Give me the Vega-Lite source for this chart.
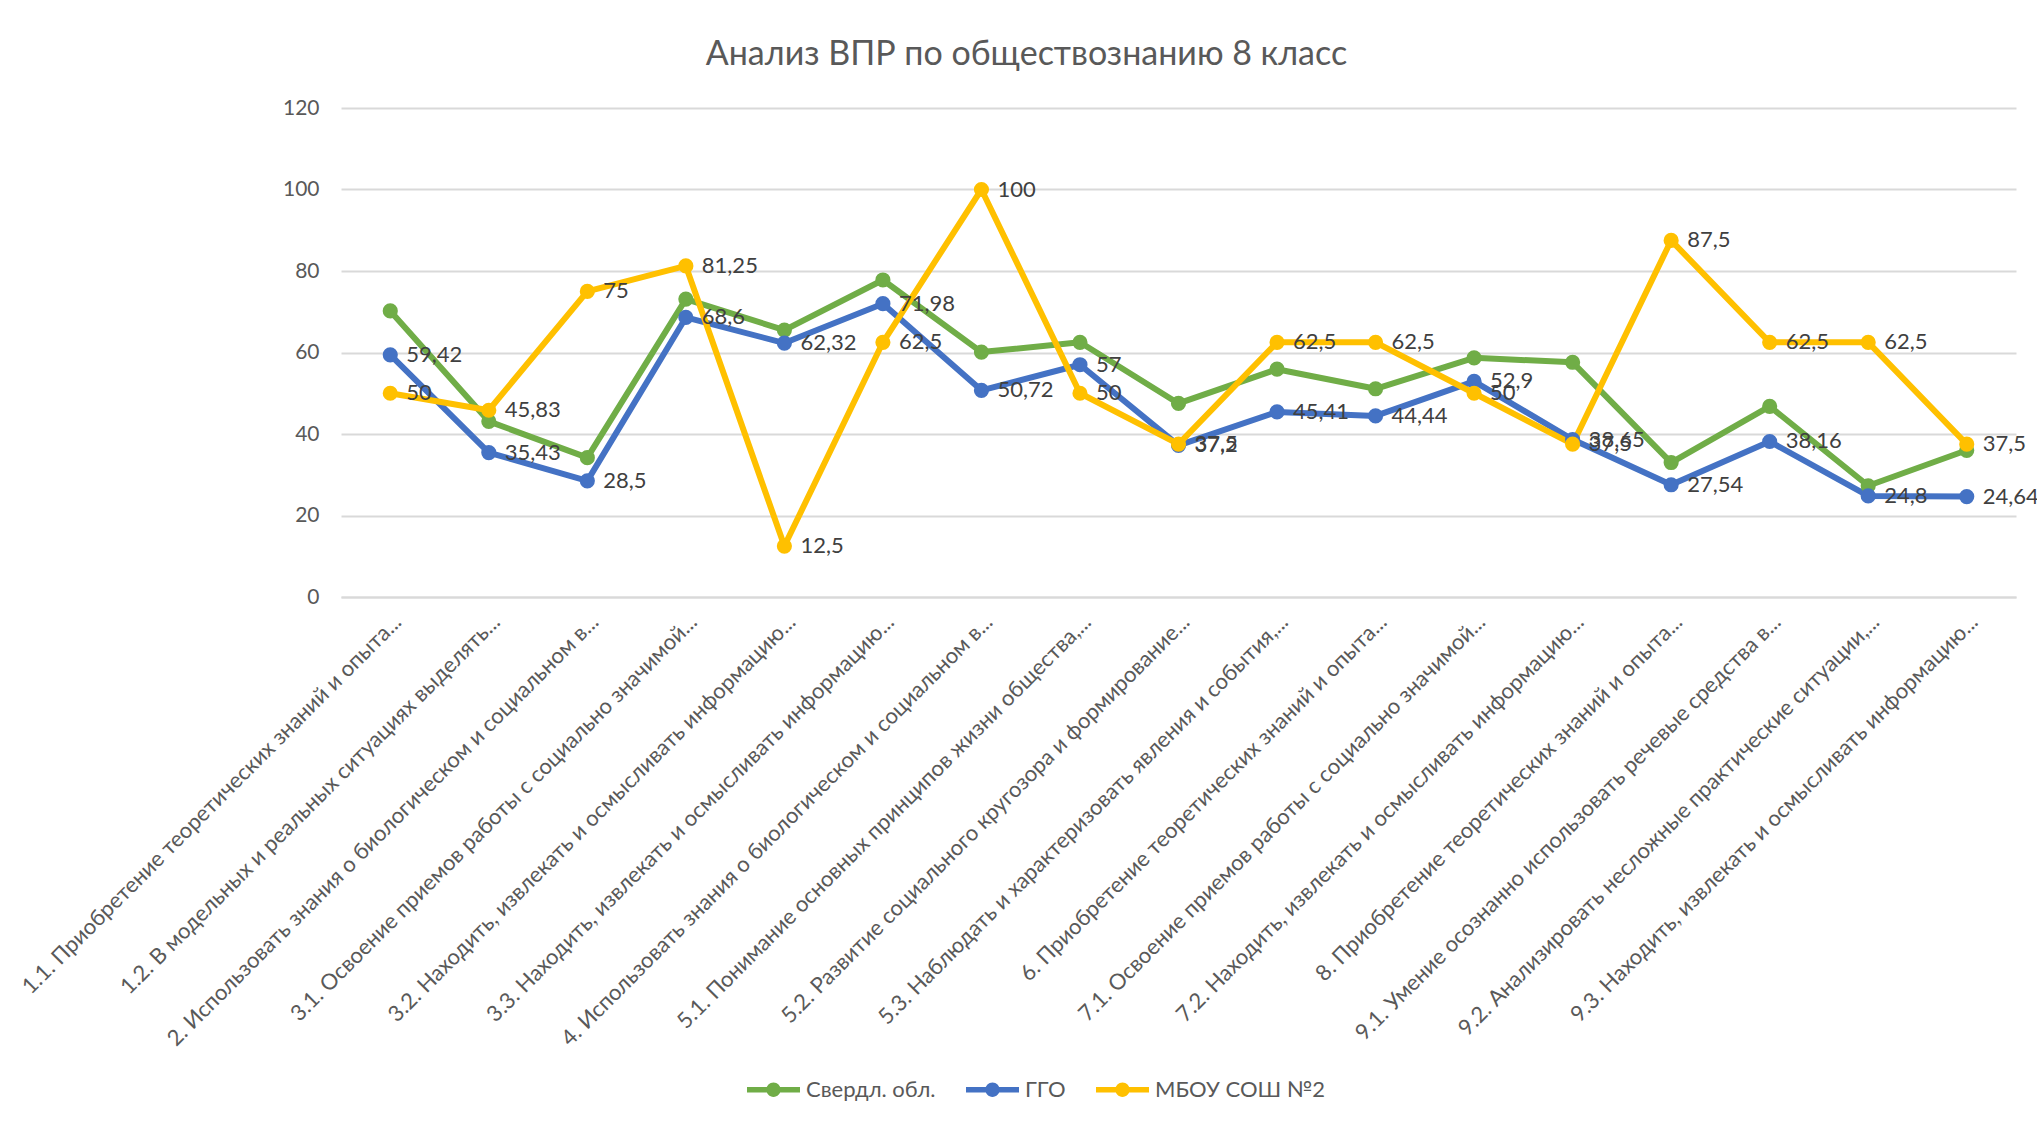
{
  "$schema": "https://vega.github.io/schema/vega-lite/v6.json",
  "autosize": "none",
  "width": 1675,
  "height": 489,
  "padding": {"left": 341, "top": 108, "right": 21, "bottom": 526},
  "background": "white",
  "config": {
    "locale": {"number": {"decimal": ",", "thousands": " ", "grouping": [3], "currency": ["", ""]}},
    "view": {"stroke": null},
    "font": "Lato"
  },
  "title": {
    "text": "Анализ ВПР по обществознанию 8 класс",
    "font": "Lato",
    "fontSize": 34,
    "fontWeight": "normal",
    "color": "#595959",
    "anchor": "middle",
    "frame": "group",
    "dx": -152,
    "offset": 25
  },
  "data": {
    "values": [
      {"task": "1.1. Приобретение теоретических знаний и опыта...", "series": "Свердл. обл.", "value": 70.2},
      {"task": "1.2. В модельных и реальных ситуациях выделять...", "series": "Свердл. обл.", "value": 43.1},
      {"task": "2. Использовать знания о биологическом и социальном в...", "series": "Свердл. обл.", "value": 34.2},
      {"task": "3.1. Освоение приемов работы с социально значимой...", "series": "Свердл. обл.", "value": 73.1},
      {"task": "3.2. Находить, извлекать и осмысливать информацию...", "series": "Свердл. обл.", "value": 65.5},
      {"task": "3.3. Находить, извлекать и осмысливать информацию...", "series": "Свердл. обл.", "value": 77.8},
      {"task": "4. Использовать знания о биологическом и социальном в...", "series": "Свердл. обл.", "value": 60.1},
      {"task": "5.1. Понимание основных принципов жизни общества,...", "series": "Свердл. обл.", "value": 62.5},
      {"task": "5.2. Развитие социального кругозора и формирование...", "series": "Свердл. обл.", "value": 47.5},
      {"task": "5.3. Наблюдать и характеризовать явления и события,...", "series": "Свердл. обл.", "value": 55.9},
      {"task": "6. Приобретение теоретических знаний и опыта...", "series": "Свердл. обл.", "value": 51.1},
      {"task": "7.1. Освоение приемов работы с социально значимой...", "series": "Свердл. обл.", "value": 58.7},
      {"task": "7.2. Находить, извлекать и осмысливать информацию...", "series": "Свердл. обл.", "value": 57.6},
      {"task": "8. Приобретение теоретических знаний и опыта...", "series": "Свердл. обл.", "value": 33.0},
      {"task": "9.1. Умение осознанно использовать речевые средства в...", "series": "Свердл. обл.", "value": 46.8},
      {"task": "9.2. Анализировать несложные практические ситуации,...", "series": "Свердл. обл.", "value": 27.3},
      {"task": "9.3. Находить, извлекать и осмысливать информацию...", "series": "Свердл. обл.", "value": 36.0},
      {"task": "1.1. Приобретение теоретических знаний и опыта...", "series": "ГГО", "value": 59.42},
      {"task": "1.2. В модельных и реальных ситуациях выделять...", "series": "ГГО", "value": 35.43},
      {"task": "2. Использовать знания о биологическом и социальном в...", "series": "ГГО", "value": 28.5},
      {"task": "3.1. Освоение приемов работы с социально значимой...", "series": "ГГО", "value": 68.6},
      {"task": "3.2. Находить, извлекать и осмысливать информацию...", "series": "ГГО", "value": 62.32},
      {"task": "3.3. Находить, извлекать и осмысливать информацию...", "series": "ГГО", "value": 71.98},
      {"task": "4. Использовать знания о биологическом и социальном в...", "series": "ГГО", "value": 50.72},
      {"task": "5.1. Понимание основных принципов жизни общества,...", "series": "ГГО", "value": 57},
      {"task": "5.2. Развитие социального кругозора и формирование...", "series": "ГГО", "value": 37.2},
      {"task": "5.3. Наблюдать и характеризовать явления и события,...", "series": "ГГО", "value": 45.41},
      {"task": "6. Приобретение теоретических знаний и опыта...", "series": "ГГО", "value": 44.44},
      {"task": "7.1. Освоение приемов работы с социально значимой...", "series": "ГГО", "value": 52.9},
      {"task": "7.2. Находить, извлекать и осмысливать информацию...", "series": "ГГО", "value": 38.65},
      {"task": "8. Приобретение теоретических знаний и опыта...", "series": "ГГО", "value": 27.54},
      {"task": "9.1. Умение осознанно использовать речевые средства в...", "series": "ГГО", "value": 38.16},
      {"task": "9.2. Анализировать несложные практические ситуации,...", "series": "ГГО", "value": 24.8},
      {"task": "9.3. Находить, извлекать и осмысливать информацию...", "series": "ГГО", "value": 24.64},
      {"task": "1.1. Приобретение теоретических знаний и опыта...", "series": "МБОУ СОШ №2", "value": 50},
      {"task": "1.2. В модельных и реальных ситуациях выделять...", "series": "МБОУ СОШ №2", "value": 45.83},
      {"task": "2. Использовать знания о биологическом и социальном в...", "series": "МБОУ СОШ №2", "value": 75},
      {"task": "3.1. Освоение приемов работы с социально значимой...", "series": "МБОУ СОШ №2", "value": 81.25},
      {"task": "3.2. Находить, извлекать и осмысливать информацию...", "series": "МБОУ СОШ №2", "value": 12.5},
      {"task": "3.3. Находить, извлекать и осмысливать информацию...", "series": "МБОУ СОШ №2", "value": 62.5},
      {"task": "4. Использовать знания о биологическом и социальном в...", "series": "МБОУ СОШ №2", "value": 100},
      {"task": "5.1. Понимание основных принципов жизни общества,...", "series": "МБОУ СОШ №2", "value": 50},
      {"task": "5.2. Развитие социального кругозора и формирование...", "series": "МБОУ СОШ №2", "value": 37.5},
      {"task": "5.3. Наблюдать и характеризовать явления и события,...", "series": "МБОУ СОШ №2", "value": 62.5},
      {"task": "6. Приобретение теоретических знаний и опыта...", "series": "МБОУ СОШ №2", "value": 62.5},
      {"task": "7.1. Освоение приемов работы с социально значимой...", "series": "МБОУ СОШ №2", "value": 50},
      {"task": "7.2. Находить, извлекать и осмысливать информацию...", "series": "МБОУ СОШ №2", "value": 37.5},
      {"task": "8. Приобретение теоретических знаний и опыта...", "series": "МБОУ СОШ №2", "value": 87.5},
      {"task": "9.1. Умение осознанно использовать речевые средства в...", "series": "МБОУ СОШ №2", "value": 62.5},
      {"task": "9.2. Анализировать несложные практические ситуации,...", "series": "МБОУ СОШ №2", "value": 62.5},
      {"task": "9.3. Находить, извлекать и осмысливать информацию...", "series": "МБОУ СОШ №2", "value": 37.5}
    ]
  },
  "encoding": {
    "x": {
      "field": "task",
      "type": "nominal",
      "sort": null,
      "scale": {"type": "point", "padding": 0.5},
      "axis": {
        "title": null,
        "labelAngle": -45,
        "labelFont": "Lato",
        "labelFontSize": 22,
        "labelColor": "#595959",
        "labelLimit": 800,
        "labelPadding": 14,
        "ticks": false,
        "domain": true,
        "domainColor": "#d9d9d9",
        "domainWidth": 2,
        "grid": false
      }
    },
    "y": {
      "field": "value",
      "type": "quantitative",
      "scale": {"domain": [0, 120], "nice": false, "zero": true},
      "axis": {
        "title": null,
        "values": [0, 20, 40, 60, 80, 100, 120],
        "labelFont": "Lato",
        "labelFontSize": 21,
        "labelColor": "#595959",
        "labelPadding": 22,
        "ticks": false,
        "domain": false,
        "grid": true,
        "gridColor": "#d9d9d9",
        "gridWidth": 2
      }
    },
    "color": {
      "field": "series",
      "type": "nominal",
      "sort": ["Свердл. обл.", "ГГО", "МБОУ СОШ №2"],
      "scale": {"domain": ["Свердл. обл.", "ГГО", "МБОУ СОШ №2"], "range": ["#70AD47", "#4472C4", "#FFC000"]},
      "legend": {
        "title": null,
        "orient": "none",
        "direction": "horizontal",
        "legendX": 406,
        "legendY": 955,
        "labelFont": "Lato",
        "labelFontSize": 22,
        "labelColor": "#595959",
        "labelLimit": 400,
        "labelOffset": 6,
        "columnPadding": 30,
        "symbolType": "M-1,-0.1L1,-0.1L1,0.1L-1,0.1Z M0.27,0A0.27,0.27,0,1,1,-0.27,0A0.27,0.27,0,1,1,0.27,0Z",
        "symbolSize": 2809,
        "symbolStrokeWidth": 0,
        "encode": {
          "symbols": {
            "update": {
              "fill": {"scale": "color", "field": "value"},
              "stroke": {"value": "transparent"},
              "opacity": {"value": 1}
            }
          }
        }
      }
    }
  },
  "layer": [
    {
      "mark": {"type": "line", "strokeWidth": 6, "strokeCap": "round", "strokeJoin": "round"}
    },
    {
      "mark": {"type": "circle", "size": 230, "opacity": 1}
    },
    {
      "transform": [{"filter": "datum.series !== 'Свердл. обл.'"}],
      "mark": {"type": "text", "align": "left", "baseline": "middle", "dx": 16, "font": "Lato", "fontSize": 22, "color": "#404040"},
      "encoding": {
        "text": {"field": "value", "type": "quantitative", "format": ".2~f"},
        "color": {"value": "#404040"}
      }
    }
  ]
}
